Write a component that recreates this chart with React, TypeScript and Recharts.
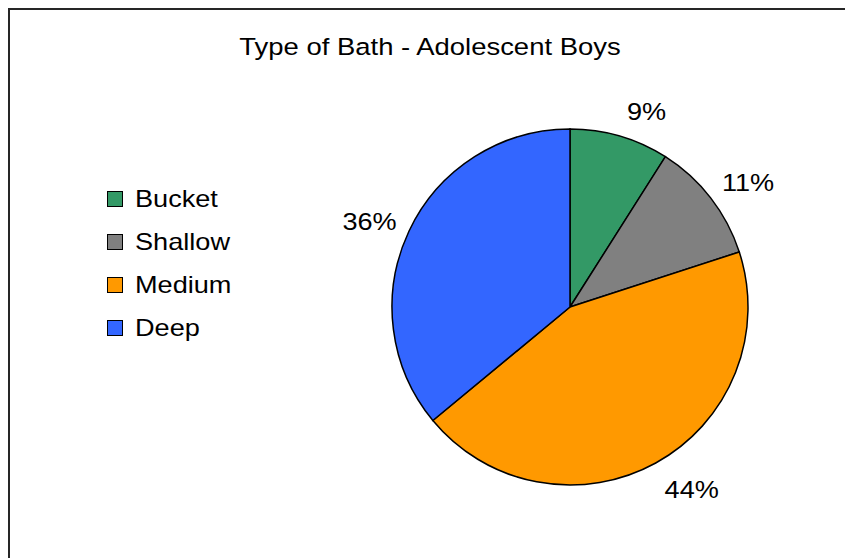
import React from 'react';
import { PieChart, Pie, Cell, Legend } from 'recharts';

const categories = ['Bucket', 'Shallow', 'Medium', 'Deep'];
const values = [9, 11, 44, 36];
const colors = ['#339966', '#808080', '#FF9900', '#3366FF'];
const title = 'Type of Bath - Adolescent Boys';

const data = categories.map((name, i) => ({ name, value: values[i] }));

const FONT = '"Liberation Sans", Arial, sans-serif';
const SX = 1.13;
const RAD = Math.PI / 180;

const renderLabel = (props: any) => {
  const { cx, cy, midAngle, outerRadius, percent } = props;
  const r = outerRadius + 8;
  const c = Math.cos(-midAngle * RAD);
  const s = Math.sin(-midAngle * RAD);
  const ax = cx + r * c;
  const ay = cy + r * s;
  const right = c >= 0;
  const x = ax + (right ? 5 : -5);
  const y = ay + s * 20 + 2;
  return (
    <g transform={`translate(${x},${y}) scale(${SX},1)`}>
      <text
        x={0}
        y={0}
        dy="0.35em"
        textAnchor={right ? 'start' : 'end'}
        fontFamily={FONT}
        fontSize={24}
        fill="#000"
      >
        {`${Math.round(percent * 100)}%`}
      </text>
    </g>
  );
};

const renderLegend = (props: any) => {
  const { payload } = props;
  const items = (payload || []).slice().sort(
    (a: any, b: any) => categories.indexOf(a.value) - categories.indexOf(b.value)
  );
  return (
    <div style={{ fontFamily: FONT }}>
      {items.map((p: any) => (
        <div
          key={p.value}
          style={{ display: 'flex', alignItems: 'center', height: 16, marginBottom: 27 }}
        >
          <div
            style={{
              width: 16,
              height: 16,
              boxSizing: 'border-box',
              border: '1.5px solid #000',
              background: colors[categories.indexOf(p.value)],
            }}
          />
          <span
            style={{
              marginLeft: 12,
              fontSize: 24,
              lineHeight: '16px',
              color: '#000',
              display: 'inline-block',
              transform: `scaleX(${SX})`,
              transformOrigin: 'left center',
              whiteSpace: 'nowrap',
            }}
          >
            {p.value}
          </span>
        </div>
      ))}
    </div>
  );
};

export default function App() {
  return (
    <div
      style={{
        position: 'fixed',
        left: 8,
        top: 8,
        width: 837,
        height: 550,
        borderTop: '2px solid #262626',
        borderLeft: '2px solid #262626',
        background: '#fff',
        overflow: 'hidden',
      }}
    >
      <PieChart width={835} height={548}>
        <g transform={`translate(420,44.5) scale(${SX},1)`}>
          <text x={0} y={0} textAnchor="middle" fontFamily={FONT} fontSize={24.3} fill="#000">
            {title}
          </text>
        </g>
        <Pie
          data={data}
          dataKey="value"
          nameKey="name"
          cx={355}
          cy={292}
          outerRadius={178}
          startAngle={90}
          endAngle={-270}
          stroke="#000"
          strokeWidth={1.5}
          label={renderLabel}
          labelLine={false}
          isAnimationActive={false}
        >
          {data.map((d) => (
            <Cell key={d.name} fill={colors[categories.indexOf(d.name)]} />
          ))}
        </Pie>
        <Legend
          layout="vertical"
          align="left"
          verticalAlign="top"
          content={renderLegend}
          wrapperStyle={{ left: 97, top: 181, width: 200 }}
        />
      </PieChart>
    </div>
  );
}
